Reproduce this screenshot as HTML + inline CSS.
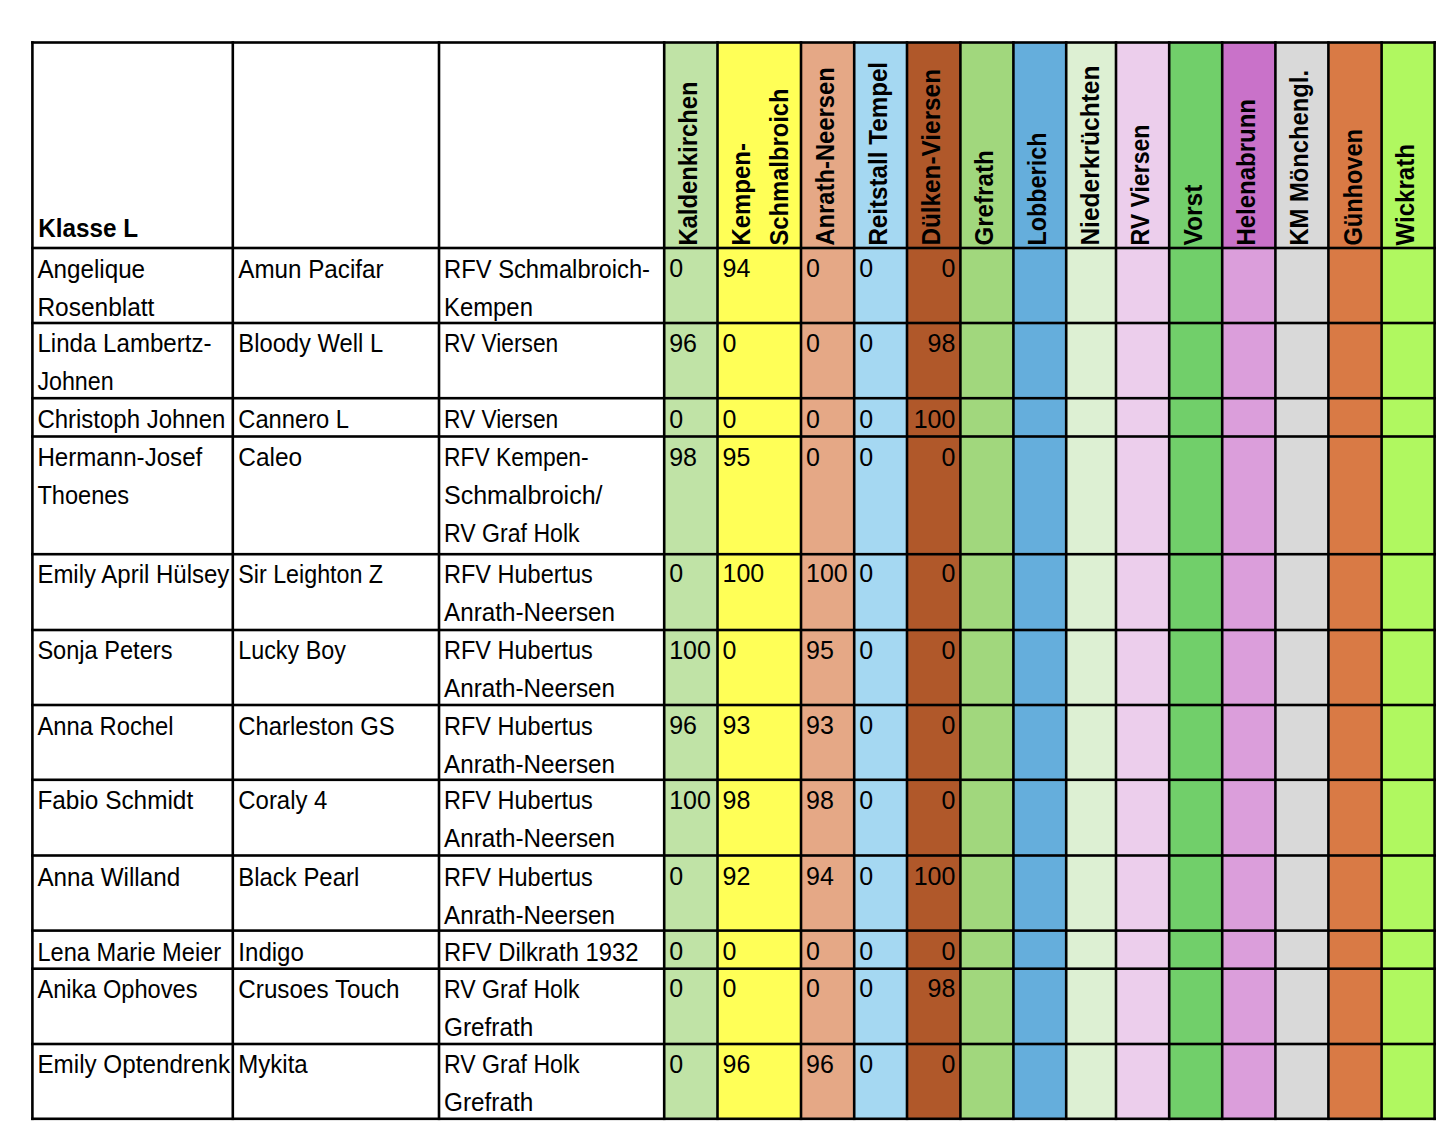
<!DOCTYPE html>
<html><head><meta charset="utf-8"><style>
html,body{margin:0;padding:0;background:#fff;}
body{width:1440px;height:1133px;overflow:hidden;font-family:"Liberation Sans",sans-serif;}
svg{display:block;}
</style></head><body>
<svg width="1440" height="1133" viewBox="0 0 1440 1133">
<rect x="664.2" y="42.5" width="53.30" height="1076.30" fill="#C0E3A6"/>
<rect x="717.5" y="42.5" width="83.50" height="1076.30" fill="#FFFF57"/>
<rect x="801" y="42.5" width="53.20" height="1076.30" fill="#E5A886"/>
<rect x="854.2" y="42.5" width="52.80" height="1076.30" fill="#A5D8F2"/>
<rect x="907" y="42.5" width="53.40" height="1076.30" fill="#B0582A"/>
<rect x="960.4" y="42.5" width="53.00" height="1076.30" fill="#A1D77D"/>
<rect x="1013.4" y="42.5" width="52.80" height="1076.30" fill="#65AEDC"/>
<rect x="1066.2" y="42.5" width="49.80" height="1076.30" fill="#DDF0D3"/>
<rect x="1116" y="42.5" width="53.20" height="1076.30" fill="#ECCEEC"/>
<rect x="1169.2" y="42.5" width="53.00" height="1076.30" fill="#71CF6A"/>
<rect x="1222.2" y="42.5" width="53.20" height="1076.30" fill="#DB9EDB"/>
<rect x="1275.4" y="42.5" width="53.00" height="1076.30" fill="#D9D9D9"/>
<rect x="1328.4" y="42.5" width="53.20" height="1076.30" fill="#D97A45"/>
<rect x="1381.6" y="42.5" width="53.00" height="1076.30" fill="#B0F860"/>
<rect x="1222.2" y="42.5" width="53.20" height="205.50" fill="#C972C9"/>
<rect x="31.10" y="41.20" width="2.6" height="1078.90" fill="#000"/>
<rect x="231.50" y="41.20" width="2.6" height="1078.90" fill="#000"/>
<rect x="437.70" y="41.20" width="2.6" height="1078.90" fill="#000"/>
<rect x="662.90" y="41.20" width="2.6" height="1078.90" fill="#000"/>
<rect x="716.20" y="41.20" width="2.6" height="1078.90" fill="#000"/>
<rect x="799.70" y="41.20" width="2.6" height="1078.90" fill="#000"/>
<rect x="852.90" y="41.20" width="2.6" height="1078.90" fill="#000"/>
<rect x="905.70" y="41.20" width="2.6" height="1078.90" fill="#000"/>
<rect x="959.10" y="41.20" width="2.6" height="1078.90" fill="#000"/>
<rect x="1012.10" y="41.20" width="2.6" height="1078.90" fill="#000"/>
<rect x="1064.90" y="41.20" width="2.6" height="1078.90" fill="#000"/>
<rect x="1114.70" y="41.20" width="2.6" height="1078.90" fill="#000"/>
<rect x="1167.90" y="41.20" width="2.6" height="1078.90" fill="#000"/>
<rect x="1220.90" y="41.20" width="2.6" height="1078.90" fill="#000"/>
<rect x="1274.10" y="41.20" width="2.6" height="1078.90" fill="#000"/>
<rect x="1327.10" y="41.20" width="2.6" height="1078.90" fill="#000"/>
<rect x="1380.30" y="41.20" width="2.6" height="1078.90" fill="#000"/>
<rect x="1433.30" y="41.20" width="2.6" height="1078.90" fill="#000"/>
<rect x="31.10" y="41.20" width="1404.80" height="2.6" fill="#000"/>
<rect x="31.10" y="246.70" width="1404.80" height="2.6" fill="#000"/>
<rect x="31.10" y="321.70" width="1404.80" height="2.6" fill="#000"/>
<rect x="31.10" y="396.90" width="1404.80" height="2.6" fill="#000"/>
<rect x="31.10" y="435.20" width="1404.80" height="2.6" fill="#000"/>
<rect x="31.10" y="552.90" width="1404.80" height="2.6" fill="#000"/>
<rect x="31.10" y="628.70" width="1404.80" height="2.6" fill="#000"/>
<rect x="31.10" y="703.70" width="1404.80" height="2.6" fill="#000"/>
<rect x="31.10" y="778.50" width="1404.80" height="2.6" fill="#000"/>
<rect x="31.10" y="854.20" width="1404.80" height="2.6" fill="#000"/>
<rect x="31.10" y="929.30" width="1404.80" height="2.6" fill="#000"/>
<rect x="31.10" y="967.40" width="1404.80" height="2.6" fill="#000"/>
<rect x="31.10" y="1042.70" width="1404.80" height="2.6" fill="#000"/>
<rect x="31.10" y="1117.50" width="1404.80" height="2.6" fill="#000"/>
<g font-family="Liberation Sans" font-weight="bold" font-size="25" fill="#000">
<text x="697.0" y="245.6" transform="rotate(-90 697.0 245.6)" textLength="164.2" lengthAdjust="spacingAndGlyphs">Kaldenkirchen</text>
<text x="750.5" y="245.6" transform="rotate(-90 750.5 245.6)" textLength="102.5" lengthAdjust="spacingAndGlyphs">Kempen-</text>
<text x="788.5" y="245.6" transform="rotate(-90 788.5 245.6)" textLength="157.2" lengthAdjust="spacingAndGlyphs">Schmalbroich</text>
<text x="834.3" y="245.6" transform="rotate(-90 834.3 245.6)" textLength="178.4" lengthAdjust="spacingAndGlyphs">Anrath-Neersen</text>
<text x="887.5" y="245.6" transform="rotate(-90 887.5 245.6)" textLength="183.7" lengthAdjust="spacingAndGlyphs">Reitstall Tempel</text>
<text x="940.5" y="245.6" transform="rotate(-90 940.5 245.6)" textLength="176.6" lengthAdjust="spacingAndGlyphs">Dülken-Viersen</text>
<text x="993.5" y="245.6" transform="rotate(-90 993.5 245.6)" textLength="95.4" lengthAdjust="spacingAndGlyphs">Grefrath</text>
<text x="1046.3" y="245.6" transform="rotate(-90 1046.3 245.6)" textLength="113.1" lengthAdjust="spacingAndGlyphs">Lobberich</text>
<text x="1099.2" y="245.6" transform="rotate(-90 1099.2 245.6)" textLength="180.1" lengthAdjust="spacingAndGlyphs">Niederkrüchten</text>
<text x="1148.6" y="245.6" transform="rotate(-90 1148.6 245.6)" textLength="121.0" lengthAdjust="spacingAndGlyphs">RV Viersen</text>
<text x="1201.6" y="245.6" transform="rotate(-90 1201.6 245.6)" textLength="61.0" lengthAdjust="spacingAndGlyphs">Vorst</text>
<text x="1255.5" y="245.6" transform="rotate(-90 1255.5 245.6)" textLength="146.6" lengthAdjust="spacingAndGlyphs">Helenabrunn</text>
<text x="1307.8" y="245.6" transform="rotate(-90 1307.8 245.6)" textLength="175.7" lengthAdjust="spacingAndGlyphs">KM Mönchengl.</text>
<text x="1361.6" y="245.6" transform="rotate(-90 1361.6 245.6)" textLength="116.6" lengthAdjust="spacingAndGlyphs">Günhoven</text>
<text x="1414.5" y="245.6" transform="rotate(-90 1414.5 245.6)" textLength="101.6" lengthAdjust="spacingAndGlyphs">Wickrath</text>
</g>
<g font-family="Liberation Sans" font-weight="bold" font-size="25.5"><text x="38.3" y="237.3" textLength="99.8" lengthAdjust="spacingAndGlyphs">Klasse L</text></g>
<g font-family="Liberation Sans" font-size="25" fill="#000">
<text x="37.40" y="277.5" textLength="107.70" lengthAdjust="spacingAndGlyphs">Angelique</text>
<text x="37.40" y="315.5" textLength="117.04" lengthAdjust="spacingAndGlyphs">Rosenblatt</text>
<text x="238.30" y="277.5" textLength="145.18" lengthAdjust="spacingAndGlyphs">Amun Pacifar</text>
<text x="444.00" y="277.5" textLength="206.03" lengthAdjust="spacingAndGlyphs">RFV Schmalbroich-</text>
<text x="444.00" y="315.5" textLength="88.92" lengthAdjust="spacingAndGlyphs">Kempen</text>
<text x="669.2" y="277.0">0</text>
<text x="722.5" y="277.0">94</text>
<text x="806.0" y="277.0">0</text>
<text x="859.2" y="277.0">0</text>
<text x="955.4" y="277.0" text-anchor="end">0</text>
<text x="37.40" y="352.2" textLength="174.20" lengthAdjust="spacingAndGlyphs">Linda Lambertz-</text>
<text x="37.40" y="390.2" textLength="76.23" lengthAdjust="spacingAndGlyphs">Johnen</text>
<text x="238.30" y="352.2" textLength="144.87" lengthAdjust="spacingAndGlyphs">Bloody Well L</text>
<text x="444.00" y="352.2" textLength="114.27" lengthAdjust="spacingAndGlyphs">RV Viersen</text>
<text x="669.2" y="351.7">96</text>
<text x="722.5" y="351.7">0</text>
<text x="806.0" y="351.7">0</text>
<text x="859.2" y="351.7">0</text>
<text x="955.4" y="351.7" text-anchor="end">98</text>
<text x="37.40" y="428.3" textLength="187.99" lengthAdjust="spacingAndGlyphs">Christoph Johnen</text>
<text x="238.30" y="428.3" textLength="110.68" lengthAdjust="spacingAndGlyphs">Cannero L</text>
<text x="444.00" y="428.3" textLength="114.27" lengthAdjust="spacingAndGlyphs">RV Viersen</text>
<text x="669.2" y="427.8">0</text>
<text x="722.5" y="427.8">0</text>
<text x="806.0" y="427.8">0</text>
<text x="859.2" y="427.8">0</text>
<text x="955.4" y="427.8" text-anchor="end">100</text>
<text x="37.40" y="466.1" textLength="164.92" lengthAdjust="spacingAndGlyphs">Hermann-Josef</text>
<text x="37.40" y="504.1" textLength="91.78" lengthAdjust="spacingAndGlyphs">Thoenes</text>
<text x="238.30" y="466.1" textLength="63.81" lengthAdjust="spacingAndGlyphs">Caleo</text>
<text x="444.00" y="466.1" textLength="144.66" lengthAdjust="spacingAndGlyphs">RFV Kempen-</text>
<text x="444.00" y="504.1" textLength="158.51" lengthAdjust="spacingAndGlyphs">Schmalbroich/</text>
<text x="444.00" y="542.1" textLength="135.63" lengthAdjust="spacingAndGlyphs">RV Graf Holk</text>
<text x="669.2" y="465.6">98</text>
<text x="722.5" y="465.6">95</text>
<text x="806.0" y="465.6">0</text>
<text x="859.2" y="465.6">0</text>
<text x="955.4" y="465.6" text-anchor="end">0</text>
<text x="37.40" y="582.5" textLength="191.97" lengthAdjust="spacingAndGlyphs">Emily April Hülsey</text>
<text x="238.30" y="582.5" textLength="144.78" lengthAdjust="spacingAndGlyphs">Sir Leighton Z</text>
<text x="444.00" y="582.5" textLength="148.87" lengthAdjust="spacingAndGlyphs">RFV Hubertus</text>
<text x="444.00" y="620.5" textLength="171.02" lengthAdjust="spacingAndGlyphs">Anrath-Neersen</text>
<text x="669.2" y="582.0">0</text>
<text x="722.5" y="582.0">100</text>
<text x="806.0" y="582.0">100</text>
<text x="859.2" y="582.0">0</text>
<text x="955.4" y="582.0" text-anchor="end">0</text>
<text x="37.40" y="659.4" textLength="135.05" lengthAdjust="spacingAndGlyphs">Sonja Peters</text>
<text x="238.30" y="659.4" textLength="107.49" lengthAdjust="spacingAndGlyphs">Lucky Boy</text>
<text x="444.00" y="659.4" textLength="148.87" lengthAdjust="spacingAndGlyphs">RFV Hubertus</text>
<text x="444.00" y="697.4" textLength="171.02" lengthAdjust="spacingAndGlyphs">Anrath-Neersen</text>
<text x="669.2" y="658.9">100</text>
<text x="722.5" y="658.9">0</text>
<text x="806.0" y="658.9">95</text>
<text x="859.2" y="658.9">0</text>
<text x="955.4" y="658.9" text-anchor="end">0</text>
<text x="37.40" y="734.6" textLength="136.15" lengthAdjust="spacingAndGlyphs">Anna Rochel</text>
<text x="238.30" y="734.6" textLength="156.49" lengthAdjust="spacingAndGlyphs">Charleston GS</text>
<text x="444.00" y="734.6" textLength="148.87" lengthAdjust="spacingAndGlyphs">RFV Hubertus</text>
<text x="444.00" y="772.6" textLength="171.02" lengthAdjust="spacingAndGlyphs">Anrath-Neersen</text>
<text x="669.2" y="734.1">96</text>
<text x="722.5" y="734.1">93</text>
<text x="806.0" y="734.1">93</text>
<text x="859.2" y="734.1">0</text>
<text x="955.4" y="734.1" text-anchor="end">0</text>
<text x="37.40" y="809.0" textLength="155.80" lengthAdjust="spacingAndGlyphs">Fabio Schmidt</text>
<text x="238.30" y="809.0" textLength="89.09" lengthAdjust="spacingAndGlyphs">Coraly 4</text>
<text x="444.00" y="809.0" textLength="148.87" lengthAdjust="spacingAndGlyphs">RFV Hubertus</text>
<text x="444.00" y="847.0" textLength="171.02" lengthAdjust="spacingAndGlyphs">Anrath-Neersen</text>
<text x="669.2" y="808.5">100</text>
<text x="722.5" y="808.5">98</text>
<text x="806.0" y="808.5">98</text>
<text x="859.2" y="808.5">0</text>
<text x="955.4" y="808.5" text-anchor="end">0</text>
<text x="37.40" y="885.5" textLength="142.79" lengthAdjust="spacingAndGlyphs">Anna Willand</text>
<text x="238.30" y="885.5" textLength="120.92" lengthAdjust="spacingAndGlyphs">Black Pearl</text>
<text x="444.00" y="885.5" textLength="148.87" lengthAdjust="spacingAndGlyphs">RFV Hubertus</text>
<text x="444.00" y="923.5" textLength="171.02" lengthAdjust="spacingAndGlyphs">Anrath-Neersen</text>
<text x="669.2" y="885.0">0</text>
<text x="722.5" y="885.0">92</text>
<text x="806.0" y="885.0">94</text>
<text x="859.2" y="885.0">0</text>
<text x="955.4" y="885.0" text-anchor="end">100</text>
<text x="37.40" y="960.7" textLength="183.79" lengthAdjust="spacingAndGlyphs">Lena Marie Meier</text>
<text x="238.30" y="960.7" textLength="65.62" lengthAdjust="spacingAndGlyphs">Indigo</text>
<text x="444.00" y="960.7" textLength="194.44" lengthAdjust="spacingAndGlyphs">RFV Dilkrath 1932</text>
<text x="669.2" y="960.2">0</text>
<text x="722.5" y="960.2">0</text>
<text x="806.0" y="960.2">0</text>
<text x="859.2" y="960.2">0</text>
<text x="955.4" y="960.2" text-anchor="end">0</text>
<text x="37.40" y="997.7" textLength="160.09" lengthAdjust="spacingAndGlyphs">Anika Ophoves</text>
<text x="238.30" y="997.7" textLength="161.30" lengthAdjust="spacingAndGlyphs">Crusoes Touch</text>
<text x="444.00" y="997.7" textLength="135.63" lengthAdjust="spacingAndGlyphs">RV Graf Holk</text>
<text x="444.00" y="1035.7" textLength="89.24" lengthAdjust="spacingAndGlyphs">Grefrath</text>
<text x="669.2" y="997.2">0</text>
<text x="722.5" y="997.2">0</text>
<text x="806.0" y="997.2">0</text>
<text x="859.2" y="997.2">0</text>
<text x="955.4" y="997.2" text-anchor="end">98</text>
<text x="37.40" y="1073.0" textLength="192.63" lengthAdjust="spacingAndGlyphs">Emily Optendrenk</text>
<text x="238.30" y="1073.0" textLength="69.43" lengthAdjust="spacingAndGlyphs">Mykita</text>
<text x="444.00" y="1073.0" textLength="135.63" lengthAdjust="spacingAndGlyphs">RV Graf Holk</text>
<text x="444.00" y="1111.0" textLength="89.24" lengthAdjust="spacingAndGlyphs">Grefrath</text>
<text x="669.2" y="1072.5">0</text>
<text x="722.5" y="1072.5">96</text>
<text x="806.0" y="1072.5">96</text>
<text x="859.2" y="1072.5">0</text>
<text x="955.4" y="1072.5" text-anchor="end">0</text>
</g>
</svg>
</body></html>
